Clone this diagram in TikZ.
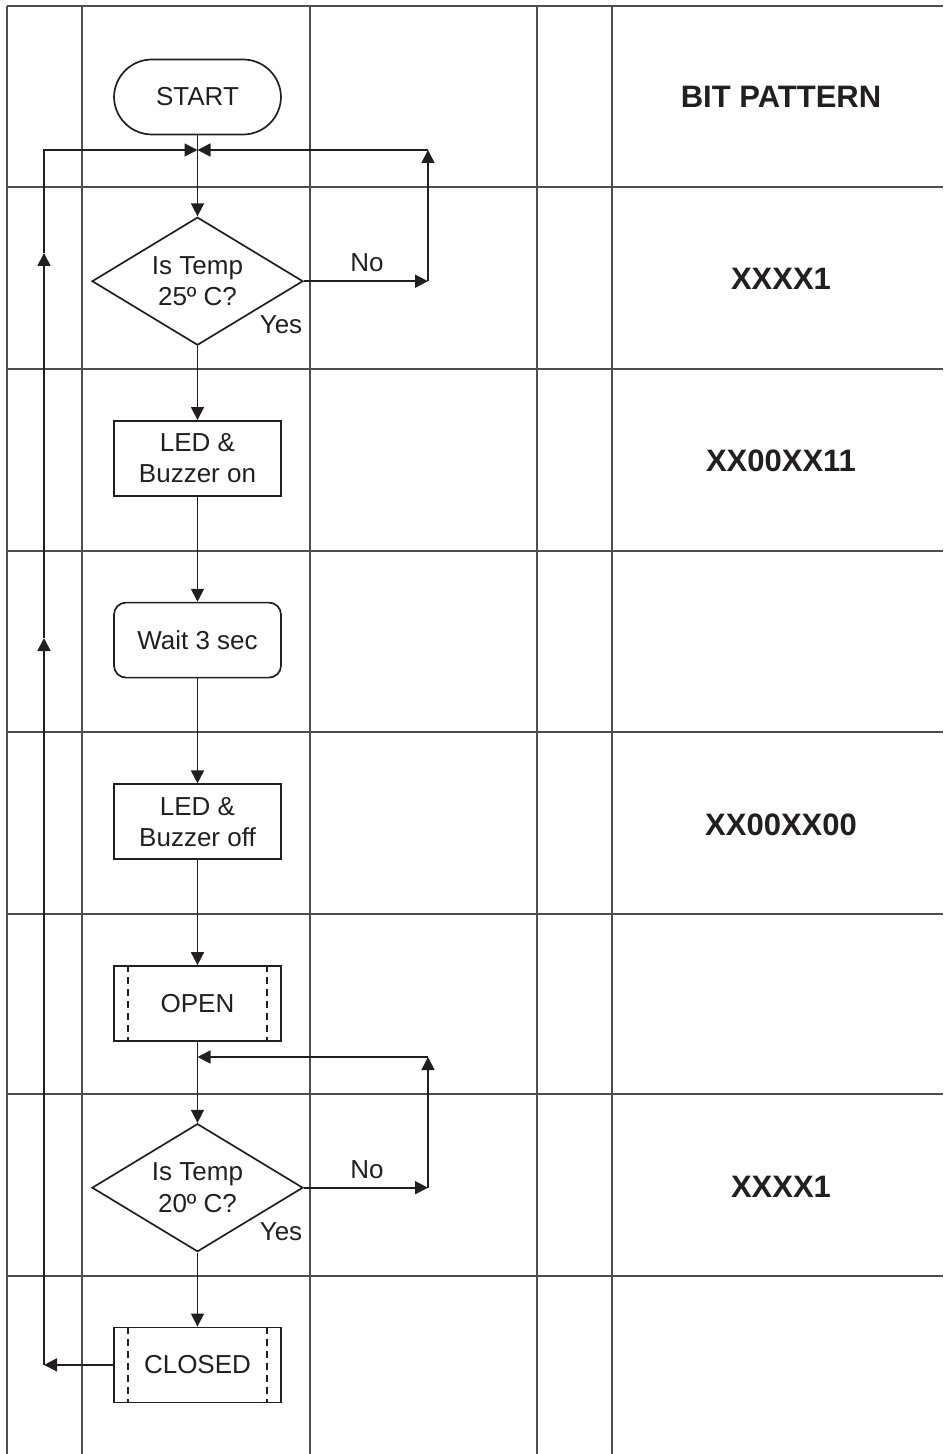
\documentclass[tikz,border=0pt]{standalone}
\usepackage{fontspec}
\setmainfont{Liberation Sans}
\usepackage{tikz}
\usetikzlibrary{arrows.meta,positioning,shapes.geometric}
\definecolor{ink}{HTML}{231F20}
\definecolor{rule}{HTML}{4D4D4D}

\begin{document}
\begin{tikzpicture}[x=0.5pt, y=-0.5pt, node distance=52.5pt,
    every node/.style={font=\fontsize{13}{15.6}\selectfont, text=ink},
    box/.style={draw=ink, line width=0.85pt, minimum width=83.5pt, minimum height=37.5pt, inner sep=0pt, align=center},
    terminal/.style={box, rounded corners=19pt},
    waitbox/.style={box, rounded corners=6pt},
    decision/.style={draw=ink, line width=0.85pt, diamond, aspect=1.65, minimum width=105.5pt, minimum height=64pt, inner sep=0pt, align=center},
    arrowline/.style={draw=ink, line width=0.85pt, -{Triangle[length=6.5pt,width=6.5pt]}},
    gridline/.style={draw=rule, line width=0.65pt},
    pattern/.style={font=\fontsize{15.5}{18}\selectfont\bfseries}]
        \useasboundingbox (0,0) rectangle (943,1454);
        % table
        \foreach \y in {6,187,369,551,732,914,1094,1276}{\draw[gridline] (7,\y) -- (943,\y);}
        \foreach \x in {7,82,310,537,612}{\draw[gridline] (\x,6) -- (\x,1454);}
        % flow chart
        \node[terminal] (start) at (197.5,97) {START};
        \node[decision, below=40.5pt of start] (temp25) {Is Temp\\25º C?};
        \node[box, below=37pt of temp25] (ledon) {LED \&\\Buzzer on};
        \node[waitbox, below=of ledon] (wait) {Wait 3 sec};
        \node[box, below=of wait] (ledoff) {LED \&\\Buzzer off};
        \node[box, below=of ledoff] (open) {OPEN};
        \node[decision, below=40.5pt of open] (temp20) {Is Temp\\20º C?};
        \node[box, below=37pt of temp20] (closed) {CLOSED};
        \foreach \n in {open,closed}{
          \draw[draw=ink, line width=0.85pt, dash pattern=on 3.5pt off 2.5pt] ([xshift=7.5pt]\n.north west) -- ([xshift=7.5pt]\n.south west);
          \draw[draw=ink, line width=0.85pt, dash pattern=on 3.5pt off 2.5pt] ([xshift=-7.5pt]\n.north east) -- ([xshift=-7.5pt]\n.south east);
        }
        \foreach \x/\y in {start/temp25,temp25/ledon,ledon/wait,wait/ledoff,ledoff/open,open/temp20,temp20/closed}{\draw[arrowline] (\x) -- (\y);}
        % loops
        \coordinate (j1) at (197.5,150);
        \coordinate (ret1) at (428,150);
        \coordinate (no1) at (temp25.east -| ret1);
        \coordinate (j2) at (197.5,1057);
        \coordinate (ret2) at (428,1057);
        \coordinate (no2) at (temp20.east -| ret2);
        \coordinate (lb) at (44,150);
        \coordinate (lbot) at (closed.west -| lb);
        \coordinate (lmid1) at (44,638);
        \coordinate (lmid2) at (44,253);
        \draw[arrowline] (temp25.east) -- (no1);
        \draw[arrowline] (no1) -- (ret1);
        \draw[arrowline] (ret1) -- (j1);
        \draw[arrowline] (temp20.east) -- (no2);
        \draw[arrowline] (no2) -- (ret2);
        \draw[arrowline] (ret2) -- (j2);
        \draw[arrowline] (closed) -- (lbot);
        \draw[arrowline] (lbot) -- (lmid1);
        \draw[arrowline] (lmid1) -- (lmid2);
        \draw[arrowline] (lmid2) -- (lb) -- (j1);
        % labels
        \node (no1lbl) at (367,263) {No};
        \node (yes1lbl) at (281,325) {Yes};
        \node (no2lbl) at (367,1170) {No};
        \node (yes2lbl) at (281,1232) {Yes};
        % bit patterns
        \node[pattern] (bits) at (781,97) {BIT PATTERN};
        \node[pattern] (bits25) at (781,279) {XXXX1};
        \node[pattern] (bitson) at (781,461) {XX00XX11};
        \node[pattern] (bitsoff) at (781,825) {XX00XX00};
        \node[pattern] (bits20) at (781,1187) {XXXX1};
      \end{tikzpicture}
\end{document}
